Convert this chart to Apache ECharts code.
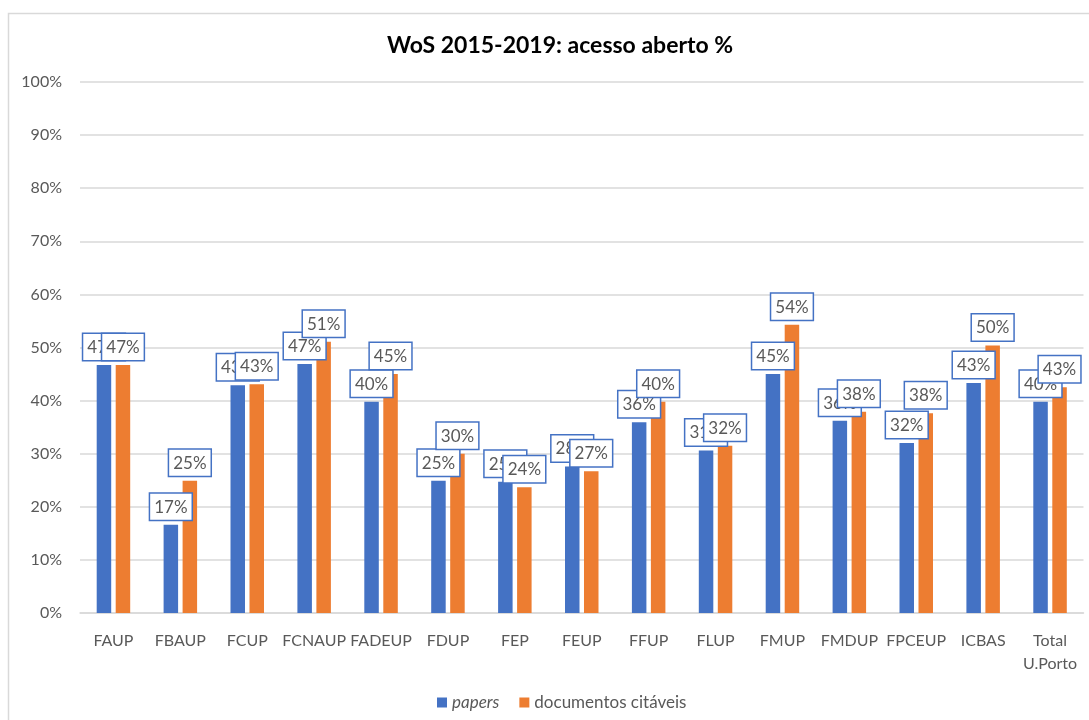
<!DOCTYPE html>
<html>
<head>
<meta charset="utf-8">
<script src="https://cdn.jsdelivr.net/npm/echarts@6/dist/echarts.min.js"></script>
<style>
	html, body { margin: 0; padding: 0; background: #fff; }
	#chart { width: 1089px; height: 720px; }
</style>
</head>
<body>
<div id="chart"></div>
<script>
var categories = ['FAUP', 'FBAUP', 'FCUP', 'FCNAUP', 'FADEUP', 'FDUP', 'FEP', 'FEUP',
	'FFUP', 'FLUP', 'FMUP', 'FMDUP', 'FPCEUP', 'ICBAS', 'Total\nU.Porto'];
var papers = [46.7, 16.6, 42.9, 46.9, 39.8, 24.9, 24.7, 27.6, 35.9, 30.6, 45.0, 36.2, 32.0, 43.3, 39.8];
var citaveis = [46.7, 24.9, 43.1, 51.1, 45.0, 30.0, 23.7, 26.7, 39.8, 31.5, 54.3, 37.9, 37.6, 50.4, 42.5];
var yTicks = [0, 10, 20, 30, 40, 50, 60, 70, 80, 90, 100];

var COLORS = { papers: '#4472C4', citaveis: '#ED7D31', text: '#595959', grid: '#d9d9d9' };
var FONT = 'Lato';

var myChart = echarts.init(document.getElementById('chart'));

var label = {
	show: true,
	position: 'top',
	distance: 5,
	formatter: function (p) { return Math.round(p.value) + '%'; },
	color: COLORS.text,
	fontFamily: FONT,
	fontSize: 17,
	backgroundColor: '#fff',
	borderColor: COLORS.papers,
	borderWidth: 1.5,
	padding: [5, 4, 4, 4]
};

var option = {
	animation: false,
	textStyle: { fontFamily: FONT },
	// chart frame (left and top edges visible in the crop)
	graphic: [{
		type: 'rect',
		shape: { x: 8.5, y: 13.5, width: 1200, height: 800 },
		style: { fill: 'none', stroke: COLORS.grid, lineWidth: 1.5 },
		silent: true
	}],
	title: {
		text: 'WoS 2015-2019: acesso aberto %',
		left: 555,
		textAlign: 'center',
		top: 29,
		textStyle: { fontFamily: FONT, fontSize: 23, fontWeight: 'bold', color: '#000' }
	},
	grid: { left: 80, right: 5.5, top: 82, bottom: 107 },
	legend: {
		top: 689,
		left: 432,
		itemWidth: 10,
		itemHeight: 10,
		itemGap: 20,
		icon: 'rect',
		textStyle: {
			color: COLORS.text, fontSize: 17, fontFamily: FONT,
			rich: { it: { fontStyle: 'italic', color: COLORS.text, fontSize: 17, fontFamily: FONT } }
		},
		formatter: function (name) { return name === 'papers' ? '{it|papers}' : name; },
		data: ['papers', 'documentos citáveis']
	},
	xAxis: {
		type: 'category',
		data: categories,
		axisLine: { lineStyle: { color: COLORS.grid, width: 1.5 } },
		axisTick: { show: false },
		axisLabel: { color: COLORS.text, fontSize: 16, fontFamily: FONT, margin: 16, interval: 0, lineHeight: 23 }
	},
	yAxis: {
		type: 'value',
		min: 0,
		max: 100,
		interval: 10,
		axisLine: { show: false },
		axisTick: { show: false },
		splitLine: { lineStyle: { color: COLORS.grid, width: 1.5 } },
		axisLabel: {
			color: COLORS.text, fontSize: 16, fontFamily: FONT, margin: 18,
			formatter: function (v) { return yTicks.indexOf(v) >= 0 ? v + '%' : ''; }
		}
	},
	series: [
		{
			name: 'papers',
			type: 'bar',
			barWidth: 14.5,
			barGap: '31%',
			itemStyle: { color: COLORS.papers },
			label: label,
			data: papers
		},
		{
			name: 'documentos citáveis',
			type: 'bar',
			barWidth: 14.5,
			itemStyle: { color: COLORS.citaveis },
			label: label,
			data: citaveis
		}
	]
};

myChart.setOption(option);
</script>
</body>
</html>
